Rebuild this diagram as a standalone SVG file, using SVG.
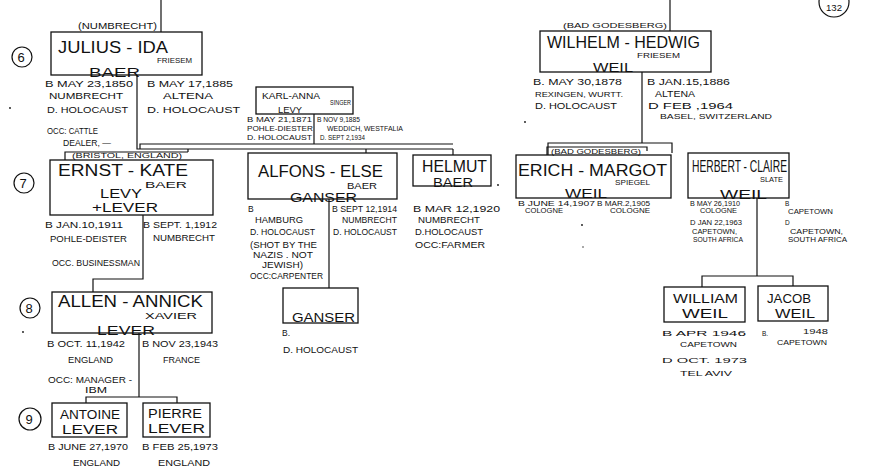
<svg xmlns="http://www.w3.org/2000/svg" width="871" height="476" viewBox="0 0 871 476">
<style>
.bg{fill:#fff}
.box{fill:none;stroke:#111;stroke-width:1.3}
.ln{fill:none;stroke:#111;stroke-width:1.2}
text{font-family:"Liberation Sans",Arial,sans-serif;fill:#111}
.nm{font-size:16px}
.sn{font-size:12.5px}
.md{font-size:9px}
.dt{font-size:8.5px}
.sm{font-size:6.5px}
.gen{fill:none;stroke:#111;stroke-width:1.2}
.gt{font-size:13px}
</style>
<rect class="bg" x="0" y="0" width="871" height="476"/>

<g id="connectors">
  <path class="ln" d="M161,0 V32"/>
  <path class="ln" d="M137,75 V149 H453"/>
  <path class="ln" d="M140,149 V144 H453"/>
  <path class="ln" d="M366,149 V153"/>
  <path class="ln" d="M453,149 V155"/>
  <path class="ln" d="M314,114 V144"/>
  <path class="ln" d="M188,149 V152"/>
  <path class="ln" d="M65,160 V152 H188"/>
  <path class="ln" d="M329,199 V288"/>
  <path class="ln" d="M143,215 V279 H93 V292"/>
  <path class="ln" d="M139,333 V397"/>
  <path class="ln" d="M86,403 V397 H177 V403"/>
  <path class="ln" d="M670,0 V31"/>
  <path class="ln" d="M642,72 V143"/>
  <path class="ln" d="M548,155 V143 H672 V153"/>
  <path class="ln" d="M547,155 V147 H647 V151"/>
  <path class="ln" d="M757,198 V276"/>
  <path class="ln" d="M702,287 V276 H793 V286"/>
</g>

<g id="gen-markers">
  <circle class="gen" cx="22" cy="57" r="10"/><text class="gt" x="17.5" y="62">6</text>
  <circle class="gen" cx="24" cy="183" r="10"/><text class="gt" x="19.5" y="188">7</text>
  <circle class="gen" cx="30" cy="308" r="10"/><text class="gt" x="25.5" y="313">8</text>
  <circle class="gen" cx="30" cy="419" r="11"/><text class="gt" x="25.5" y="424">9</text>
  <circle class="gen" cx="834" cy="2" r="15"/><text class="dt" x="826" y="11" textLength="16" lengthAdjust="spacingAndGlyphs">132</text>
</g>

<g id="julius-ida">
  <text class="dt" x="78" y="29" textLength="79" lengthAdjust="spacingAndGlyphs">(NUMBRECHT)</text>
  <rect class="box" x="51" y="32" width="151" height="43"/>
  <text class="nm" x="58" y="53" textLength="110" lengthAdjust="spacingAndGlyphs">JULIUS - IDA</text>
  <text class="sm" x="157" y="63" textLength="35" lengthAdjust="spacingAndGlyphs">FRIESEM</text>
  <text class="sn" x="89" y="77" textLength="51" lengthAdjust="spacingAndGlyphs">BAER</text>
  <text class="dt" x="45" y="87" textLength="88" lengthAdjust="spacingAndGlyphs">B MAY 23,1850</text>
  <text class="dt" x="49" y="99" textLength="74" lengthAdjust="spacingAndGlyphs">NUMBRECHT</text>
  <text class="dt" x="47" y="113" textLength="81" lengthAdjust="spacingAndGlyphs">D. HOLOCAUST</text>
  <text class="dt" x="47" y="134" textLength="51" lengthAdjust="spacingAndGlyphs">OCC: CATTLE</text>
  <text class="dt" x="63" y="146" textLength="48" lengthAdjust="spacingAndGlyphs">DEALER, —</text>
  <text class="dt" x="147" y="87" textLength="86" lengthAdjust="spacingAndGlyphs">B MAY 17,1885</text>
  <text class="dt" x="163" y="99" textLength="50" lengthAdjust="spacingAndGlyphs">ALTENA</text>
  <text class="dt" x="147" y="113" textLength="93" lengthAdjust="spacingAndGlyphs">D. HOLOCAUST</text>
</g>

<g id="karl-anna">
  <rect class="box" x="256" y="87" width="97" height="27"/>
  <text class="dt" x="262" y="99" textLength="58" lengthAdjust="spacingAndGlyphs">KARL-ANNA</text>
  <text class="sm" x="330" y="105" textLength="21" lengthAdjust="spacingAndGlyphs">SINGER</text>
  <text class="md" x="278" y="113" textLength="24" lengthAdjust="spacingAndGlyphs">LEVY</text>
  <text class="sm" x="247" y="122" textLength="65" lengthAdjust="spacingAndGlyphs">B MAY 21,1871</text>
  <text class="sm" x="247" y="131" textLength="66" lengthAdjust="spacingAndGlyphs">POHLE-DIESTER</text>
  <text class="sm" x="247" y="140" textLength="65" lengthAdjust="spacingAndGlyphs">D. HOLOCAUST</text>
  <text class="sm" x="317" y="122" textLength="43" lengthAdjust="spacingAndGlyphs">B NOV 9,1885</text>
  <text class="sm" x="327" y="131" textLength="76" lengthAdjust="spacingAndGlyphs">WEDDICH, WESTFALIA</text>
  <text class="sm" x="320" y="140" textLength="45" lengthAdjust="spacingAndGlyphs">D. SEPT 2,1934</text>
</g>

<g id="ernst-kate">
  <text class="sm" x="72" y="158" textLength="110" lengthAdjust="spacingAndGlyphs">(BRISTOL, ENGLAND)</text>
  <rect class="box" x="50" y="160" width="163" height="55"/>
  <text class="nm" x="58" y="176" textLength="130" lengthAdjust="spacingAndGlyphs">ERNST  -  KATE</text>
  <text class="md" x="145" y="188" textLength="42" lengthAdjust="spacingAndGlyphs">BAER</text>
  <text class="sn" x="100" y="198" textLength="42" lengthAdjust="spacingAndGlyphs">LEVY</text>
  <text class="sn" x="92" y="212" textLength="66" lengthAdjust="spacingAndGlyphs">+LEVER</text>
  <text class="dt" x="45" y="228" textLength="78" lengthAdjust="spacingAndGlyphs">B JAN.10,1911</text>
  <text class="dt" x="50" y="242" textLength="77" lengthAdjust="spacingAndGlyphs">POHLE-DEISTER</text>
  <text class="dt" x="52" y="266" textLength="88" lengthAdjust="spacingAndGlyphs">OCC. BUSINESSMAN</text>
  <text class="dt" x="143" y="228" textLength="74" lengthAdjust="spacingAndGlyphs">B SEPT. 1,1912</text>
  <text class="dt" x="153" y="241" textLength="62" lengthAdjust="spacingAndGlyphs">NUMBRECHT</text>
</g>

<g id="alfons-else">
  <rect class="box" x="248" y="153" width="149" height="46"/>
  <text class="nm" x="258" y="177" textLength="125" lengthAdjust="spacingAndGlyphs">ALFONS - ELSE</text>
  <text class="md" x="347" y="189" textLength="30" lengthAdjust="spacingAndGlyphs">BAER</text>
  <text class="sn" x="290" y="202" textLength="67" lengthAdjust="spacingAndGlyphs">GANSER</text>
  <text class="dt" x="248" y="212">B</text>
  <text class="dt" x="255" y="223" textLength="48" lengthAdjust="spacingAndGlyphs">HAMBURG</text>
  <text class="dt" x="250" y="235" textLength="65" lengthAdjust="spacingAndGlyphs">D. HOLOCAUST</text>
  <text class="dt" x="250" y="248" textLength="67" lengthAdjust="spacingAndGlyphs">(SHOT BY THE</text>
  <text class="dt" x="253" y="258" textLength="60" lengthAdjust="spacingAndGlyphs">NAZIS . NOT</text>
  <text class="dt" x="262" y="268" textLength="41" lengthAdjust="spacingAndGlyphs">JEWISH)</text>
  <text class="dt" x="250" y="279" textLength="73" lengthAdjust="spacingAndGlyphs">OCC:CARPENTER</text>
  <text class="dt" x="332" y="212" textLength="65" lengthAdjust="spacingAndGlyphs">B SEPT 12,1914</text>
  <text class="dt" x="342" y="223" textLength="55" lengthAdjust="spacingAndGlyphs">NUMBRECHT</text>
  <text class="dt" x="333" y="235" textLength="64" lengthAdjust="spacingAndGlyphs">D. HOLOCAUST</text>
</g>

<g id="helmut">
  <rect class="box" x="413" y="155" width="78" height="31"/>
  <text class="nm" x="422" y="172" textLength="65" lengthAdjust="spacingAndGlyphs">HELMUT</text>
  <text class="sn" x="433" y="187" textLength="40" lengthAdjust="spacingAndGlyphs">BAER</text>
  <circle cx="498" cy="185" r="0.9" fill="#111"/>
  <text class="dt" x="413" y="212" textLength="87" lengthAdjust="spacingAndGlyphs">B MAR 12,1920</text>
  <text class="dt" x="418" y="223" textLength="62" lengthAdjust="spacingAndGlyphs">NUMBRECHT</text>
  <text class="dt" x="415" y="235" textLength="68" lengthAdjust="spacingAndGlyphs">D.HOLOCAUST</text>
  <text class="dt" x="415" y="248" textLength="70" lengthAdjust="spacingAndGlyphs">OCC:FARMER</text>
</g>

<g id="ganser">
  <rect class="box" x="283" y="288" width="75" height="35"/>
  <text class="sn" x="292" y="322" textLength="63" lengthAdjust="spacingAndGlyphs">GANSER</text>
  <text class="dt" x="282" y="336">B.</text>
  <text class="dt" x="283" y="353" textLength="75" lengthAdjust="spacingAndGlyphs">D. HOLOCAUST</text>
</g>

<g id="allen-annick">
  <rect class="box" x="52" y="292" width="160" height="41"/>
  <text class="nm" x="58" y="307" textLength="145" lengthAdjust="spacingAndGlyphs">ALLEN  -  ANNICK</text>
  <text class="md" x="145" y="319" textLength="52" lengthAdjust="spacingAndGlyphs">XAVIER</text>
  <text class="sn" x="97" y="335" textLength="58" lengthAdjust="spacingAndGlyphs">LEVER</text>
  <text class="dt" x="47" y="347" textLength="78" lengthAdjust="spacingAndGlyphs">B OCT. 11,1942</text>
  <text class="dt" x="68" y="363" textLength="45" lengthAdjust="spacingAndGlyphs">ENGLAND</text>
  <text class="dt" x="48" y="383" textLength="84" lengthAdjust="spacingAndGlyphs">OCC: MANAGER -</text>
  <text class="dt" x="85" y="393" textLength="22" lengthAdjust="spacingAndGlyphs">IBM</text>
  <text class="dt" x="142" y="347" textLength="76" lengthAdjust="spacingAndGlyphs">B NOV 23,1943</text>
  <text class="dt" x="163" y="363" textLength="37" lengthAdjust="spacingAndGlyphs">FRANCE</text>
</g>

<g id="antoine">
  <rect class="box" x="52" y="403" width="75" height="34"/>
  <text class="sn" x="60" y="419" textLength="60" lengthAdjust="spacingAndGlyphs">ANTOINE</text>
  <text class="sn" x="62" y="434" textLength="56" lengthAdjust="spacingAndGlyphs">LEVER</text>
  <text class="dt" x="48" y="450" textLength="80" lengthAdjust="spacingAndGlyphs">B JUNE 27,1970</text>
  <text class="dt" x="73" y="466" textLength="47" lengthAdjust="spacingAndGlyphs">ENGLAND</text>
</g>

<g id="pierre">
  <rect class="box" x="143" y="403" width="67" height="34"/>
  <text class="sn" x="148" y="418" textLength="54" lengthAdjust="spacingAndGlyphs">PIERRE</text>
  <text class="sn" x="148" y="433" textLength="57" lengthAdjust="spacingAndGlyphs">LEVER</text>
  <text class="dt" x="142" y="450" textLength="76" lengthAdjust="spacingAndGlyphs">B FEB 25,1973</text>
  <text class="dt" x="158" y="466" textLength="52" lengthAdjust="spacingAndGlyphs">ENGLAND</text>
</g>

<g id="wilhelm-hedwig">
  <text class="sm" x="563" y="28" textLength="104" lengthAdjust="spacingAndGlyphs">(BAD GODESBERG)</text>
  <rect class="box" x="540" y="31" width="171" height="41"/>
  <text class="nm" x="547" y="48" textLength="153" lengthAdjust="spacingAndGlyphs">WILHELM - HEDWIG</text>
  <text class="sm" x="637" y="58" textLength="43" lengthAdjust="spacingAndGlyphs">FRIESEM</text>
  <text class="sn" x="593" y="72" textLength="40" lengthAdjust="spacingAndGlyphs">WEIL</text>
  <text class="dt" x="533" y="85" textLength="89" lengthAdjust="spacingAndGlyphs">B. MAY 30,1878</text>
  <text class="sm" x="535" y="97" textLength="88" lengthAdjust="spacingAndGlyphs">REXINGEN, WURTT.</text>
  <text class="dt" x="535" y="109" textLength="82" lengthAdjust="spacingAndGlyphs">D. HOLOCAUST</text>
  <text class="dt" x="647" y="85" textLength="83" lengthAdjust="spacingAndGlyphs">B JAN.15,1886</text>
  <text class="dt" x="655" y="97" textLength="40" lengthAdjust="spacingAndGlyphs">ALTENA</text>
  <text class="dt" x="648" y="109" textLength="85" lengthAdjust="spacingAndGlyphs">D FEB   ,1964</text>
  <text class="sm" x="660" y="119" textLength="112" lengthAdjust="spacingAndGlyphs">BASEL, SWITZERLAND</text>
</g>

<g id="erich-margot">
  <text class="sm" x="551" y="154" textLength="90" lengthAdjust="spacingAndGlyphs">(BAD GODESBERG)</text>
  <rect class="box" x="516" y="155" width="155" height="43"/>
  <text class="nm" x="518" y="176" textLength="149" lengthAdjust="spacingAndGlyphs">ERICH - MARGOT</text>
  <text class="sm" x="615" y="185" textLength="35" lengthAdjust="spacingAndGlyphs">SPIEGEL</text>
  <text class="sn" x="565" y="198" textLength="42" lengthAdjust="spacingAndGlyphs">WEIL</text>
  <text class="sm" x="518" y="206" textLength="77" lengthAdjust="spacingAndGlyphs">B JUNE 14,1907</text>
  <text class="sm" x="525" y="213" textLength="38" lengthAdjust="spacingAndGlyphs">COLOGNE</text>
  <text class="sm" x="597" y="206" textLength="53" lengthAdjust="spacingAndGlyphs">B MAR.2,1905</text>
  <text class="sm" x="610" y="213" textLength="40" lengthAdjust="spacingAndGlyphs">COLOGNE</text>
</g>

<g id="herbert-claire">
  <rect class="box" x="688" y="153" width="101" height="45"/>
  <text class="nm" x="692" y="172" textLength="95" lengthAdjust="spacingAndGlyphs">HERBERT - CLAIRE</text>
  <text class="sm" x="760" y="182" textLength="23" lengthAdjust="spacingAndGlyphs">SLATE</text>
  <text class="sn" x="720" y="199" textLength="47" lengthAdjust="spacingAndGlyphs">WEIL</text>
  <text class="sm" x="690" y="206" textLength="50" lengthAdjust="spacingAndGlyphs">B MAY 26,1910</text>
  <text class="sm" x="700" y="213" textLength="37" lengthAdjust="spacingAndGlyphs">COLOGNE</text>
  <text class="sm" x="690" y="225" textLength="52" lengthAdjust="spacingAndGlyphs">D JAN 22,1963</text>
  <text class="sm" x="692" y="234" textLength="45" lengthAdjust="spacingAndGlyphs">CAPETOWN,</text>
  <text class="sm" x="693" y="242" textLength="50" lengthAdjust="spacingAndGlyphs">SOUTH AFRICA</text>
  <text class="sm" x="785" y="206">B</text>
  <text class="sm" x="788" y="214" textLength="45" lengthAdjust="spacingAndGlyphs">CAPETOWN</text>
  <text class="sm" x="785" y="225">D</text>
  <text class="sm" x="790" y="234" textLength="53" lengthAdjust="spacingAndGlyphs">CAPETOWN,</text>
  <text class="sm" x="788" y="242" textLength="59" lengthAdjust="spacingAndGlyphs">SOUTH AFRICA</text>
</g>

<g id="william">
  <rect class="box" x="664" y="287" width="81" height="35"/>
  <text class="sn" x="673" y="303" textLength="65" lengthAdjust="spacingAndGlyphs">WILLIAM</text>
  <text class="sn" x="682" y="318" textLength="46" lengthAdjust="spacingAndGlyphs">WEIL</text>
  <text class="sm" x="662" y="336" textLength="84" lengthAdjust="spacingAndGlyphs">B APR      1946</text>
  <text class="sm" x="680" y="347" textLength="57" lengthAdjust="spacingAndGlyphs">CAPETOWN</text>
  <text class="sm" x="662" y="363" textLength="85" lengthAdjust="spacingAndGlyphs">D OCT.      1973</text>
  <text class="sm" x="680" y="376" textLength="52" lengthAdjust="spacingAndGlyphs">TEL AVIV</text>
</g>

<g id="jacob">
  <rect class="box" x="758" y="286" width="70" height="35"/>
  <text class="sn" x="767" y="303" textLength="44" lengthAdjust="spacingAndGlyphs">JACOB</text>
  <text class="sn" x="775" y="318" textLength="40" lengthAdjust="spacingAndGlyphs">WEIL</text>
  <text class="sm" x="762" y="336">B.</text>
  <text class="sm" x="803" y="334" textLength="25" lengthAdjust="spacingAndGlyphs">1948</text>
  <text class="sm" x="777" y="345" textLength="50" lengthAdjust="spacingAndGlyphs">CAPETOWN</text>
</g>

<g id="specks" fill="#111">
  <circle cx="10" cy="108" r="0.9"/>
  <circle cx="23" cy="332" r="0.9"/>
  <circle cx="525" cy="122" r="0.9"/>
  <circle cx="582" cy="225" r="0.9"/>
  <circle cx="583" cy="247" r="0.7"/>
</g>
</svg>
